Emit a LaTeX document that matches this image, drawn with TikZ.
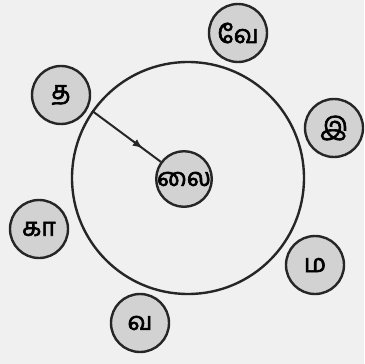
\documentclass[tikz,border=0pt]{standalone}
\usepackage{fontspec}
\newfontfamily\ta[Script=Tamil,FakeBold=2.5]{Hind Madurai}
\usetikzlibrary{decorations.markings,arrows.meta}
\begin{document}
\begin{tikzpicture}[x=1pt,y=-1pt,
  letter/.style={circle,draw=black!85,line width=2.4pt,fill=gray!35,minimum size=58pt,inner sep=0pt,font=\ta\fontsize{25}{25}\selectfont},
  centre/.style={letter,minimum size=54pt},
  ring/.style={draw=black!85,line width=2.4pt},
  link/.style={draw=black!85,line width=2pt,postaction={decorate},
    decoration={markings,mark=at position 0.74 with {\arrow{Latex[length=10pt,width=8pt]}}}}]
\useasboundingbox (0,0) rectangle (364,364);
\fill[gray!12] (0,0) rectangle (364,364);
\node[circle,ring,minimum size=232pt,inner sep=0pt] (ring) at (188,178) {};
\node[centre] (lai) at (184,179) {லை};
\node[letter] (tha) at (61,95) {த};
\node[letter] (ve) at (238,33) {வே};
\node[letter] (i) at (334,128) {இ};
\node[letter] (kaa) at (39,229) {கா};
\node[letter] (ma) at (315,265) {ம};
\node[letter] (va) at (140,323) {வ};
\coordinate (start) at (ring.145);
\draw[link] (start) -- (lai);
\end{tikzpicture}
\end{document}
